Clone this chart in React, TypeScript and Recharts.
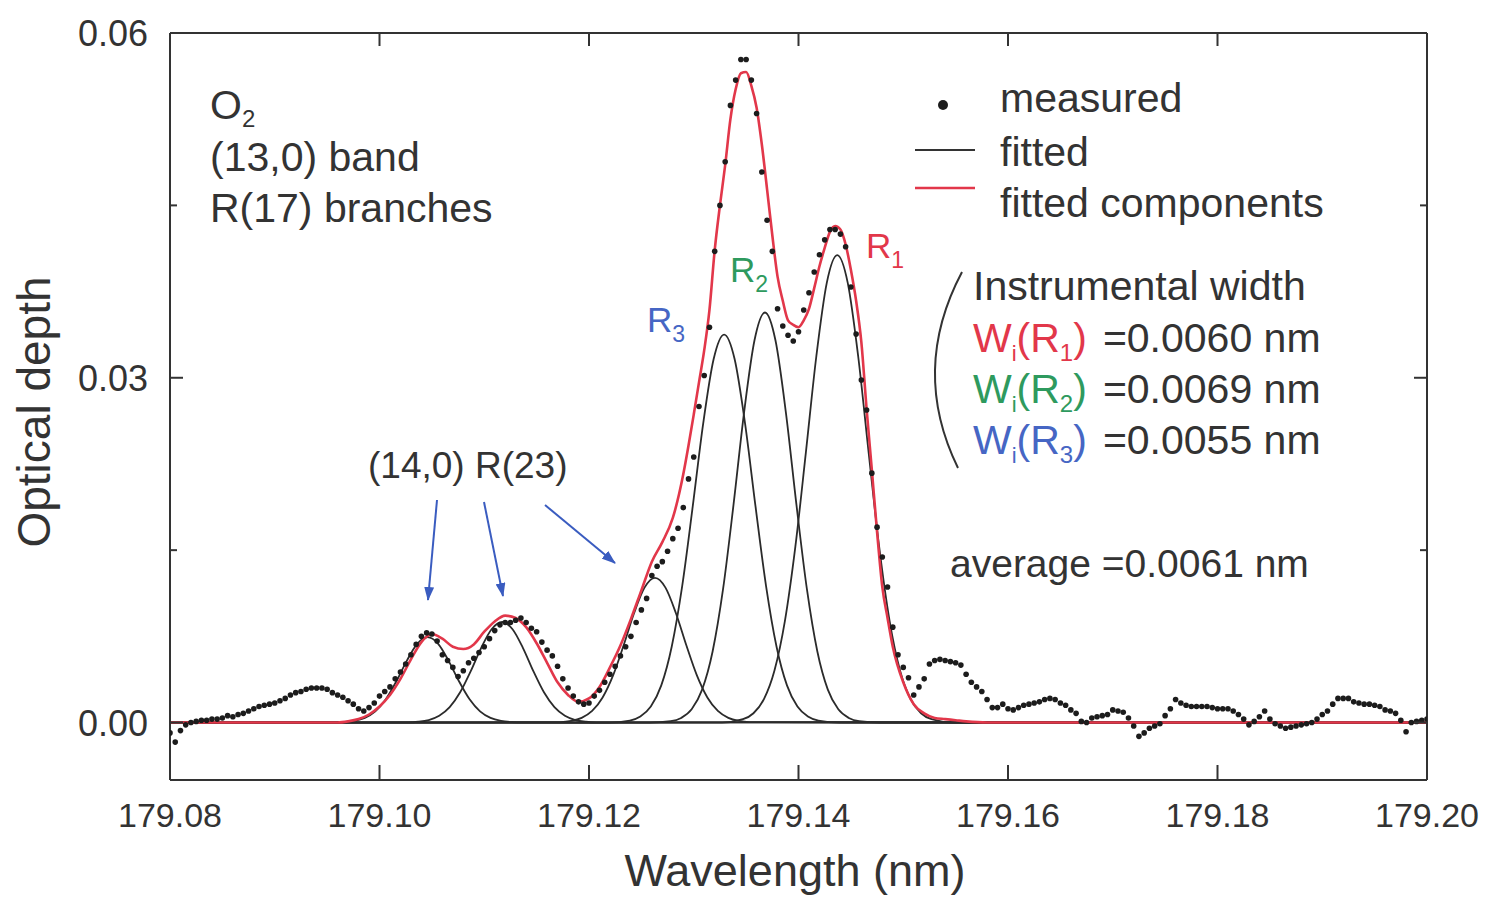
import React from "react";
import { ComposedChart, Line, Scatter, XAxis, YAxis } from "recharts";

// measured optical depth, one point every 0.0005 nm
const MEASURED_WL = [
  179.08, 179.0805, 179.081, 179.0815, 179.082, 179.0825, 179.083, 179.0835, 179.084, 179.0845,
  179.085, 179.0855, 179.086, 179.0865, 179.087, 179.0875, 179.088, 179.0885, 179.089, 179.0895,
  179.09, 179.0905, 179.091, 179.0915, 179.092, 179.0925, 179.093, 179.0935, 179.094, 179.0945,
  179.095, 179.0955, 179.096, 179.0965, 179.097, 179.0975, 179.098, 179.0985, 179.099, 179.0995,
  179.1, 179.1005, 179.101, 179.1015, 179.102, 179.1025, 179.103, 179.1035, 179.104, 179.1045,
  179.105, 179.1055, 179.106, 179.1065, 179.107, 179.1075, 179.108, 179.1085, 179.109, 179.1095,
  179.11, 179.1105, 179.111, 179.1115, 179.112, 179.1125, 179.113, 179.1135, 179.114, 179.1145,
  179.115, 179.1155, 179.116, 179.1165, 179.117, 179.1175, 179.118, 179.1185, 179.119, 179.1195,
  179.12, 179.1205, 179.121, 179.1215, 179.122, 179.1225, 179.123, 179.1235, 179.124, 179.1245,
  179.125, 179.1255, 179.126, 179.1265, 179.127, 179.1275, 179.128, 179.1285, 179.129, 179.1295,
  179.13, 179.1305, 179.131, 179.1315, 179.132, 179.1325, 179.133, 179.1335, 179.134, 179.1345,
  179.135, 179.1355, 179.136, 179.1365, 179.137, 179.1375, 179.138, 179.1385, 179.139, 179.1395,
  179.14, 179.1405, 179.141, 179.1415, 179.142, 179.1425, 179.143, 179.1435, 179.144, 179.1445,
  179.145, 179.1455, 179.146, 179.1465, 179.147, 179.1475, 179.148, 179.1485, 179.149, 179.1495,
  179.15, 179.1505, 179.151, 179.1515, 179.152, 179.1525, 179.153, 179.1535, 179.154, 179.1545,
  179.155, 179.1555, 179.156, 179.1565, 179.157, 179.1575, 179.158, 179.1585, 179.159, 179.1595,
  179.16, 179.1605, 179.161, 179.1615, 179.162, 179.1625, 179.163, 179.1635, 179.164, 179.1645,
  179.165, 179.1655, 179.166, 179.1665, 179.167, 179.1675, 179.168, 179.1685, 179.169, 179.1695,
  179.17, 179.1705, 179.171, 179.1715, 179.172, 179.1725, 179.173, 179.1735, 179.174, 179.1745,
  179.175, 179.1755, 179.176, 179.1765, 179.177, 179.1775, 179.178, 179.1785, 179.179, 179.1795,
  179.18, 179.1805, 179.181, 179.1815, 179.182, 179.1825, 179.183, 179.1835, 179.184, 179.1845,
  179.185, 179.1855, 179.186, 179.1865, 179.187, 179.1875, 179.188, 179.1885, 179.189, 179.1895,
  179.19, 179.1905, 179.191, 179.1915, 179.192, 179.1925, 179.193, 179.1935, 179.194, 179.1945,
  179.195, 179.1955, 179.196, 179.1965, 179.197, 179.1975, 179.198, 179.1985, 179.199, 179.1995,
  179.2,
];

const MEASURED_OD = [
  -0.0009, -0.0017, -0.0007, -0.0002, 0.0, 0.0001, 0.0002, 0.0002, 0.0003, 0.0003,
  0.0004, 0.0006, 0.0005, 0.0007, 0.0008, 0.001, 0.0012, 0.0014, 0.0015, 0.0016,
  0.0017, 0.0019, 0.0021, 0.0024, 0.0026, 0.0027, 0.0029, 0.003, 0.003, 0.003,
  0.0029, 0.0026, 0.0024, 0.0022, 0.0019, 0.0016, 0.0012, 0.001, 0.0013, 0.0017,
  0.0023, 0.0027, 0.0031, 0.0038, 0.0044, 0.0051, 0.0059, 0.0068, 0.0075, 0.0078,
  0.0077, 0.0071, 0.0059, 0.0054, 0.0048, 0.004, 0.0045, 0.0052, 0.0056, 0.0061,
  0.0066, 0.0073, 0.008, 0.0085, 0.0087, 0.0087, 0.0089, 0.0091, 0.0087, 0.0082,
  0.0079, 0.007, 0.0063, 0.0058, 0.0049, 0.0038, 0.003, 0.0023, 0.0018, 0.0016,
  0.0017, 0.0023, 0.0028, 0.0035, 0.0042, 0.0049, 0.0058, 0.0066, 0.0075, 0.0087,
  0.0098, 0.0108, 0.0128, 0.0136, 0.014, 0.0149, 0.016, 0.0169, 0.0187, 0.0212,
  0.0231, 0.0275, 0.0302, 0.0344, 0.041, 0.045, 0.0488, 0.0537, 0.0559, 0.0577,
  0.0577, 0.0559, 0.053, 0.0479, 0.0437, 0.041, 0.036, 0.0345, 0.0337, 0.0332,
  0.034, 0.0359, 0.0374, 0.0392, 0.0407, 0.042, 0.0429, 0.0429, 0.0425, 0.0414,
  0.0379, 0.0338, 0.0298, 0.0272, 0.0217, 0.017, 0.0144, 0.0118, 0.0083, 0.0059,
  0.0048, 0.0039, 0.0024, 0.0031, 0.0038, 0.0051, 0.0054, 0.0055, 0.0054, 0.0053,
  0.0052, 0.005, 0.0042, 0.0035, 0.0031, 0.0027, 0.002, 0.0013, 0.0013, 0.0016,
  0.0012, 0.0011, 0.0013, 0.0015, 0.0016, 0.0017, 0.0018, 0.002, 0.0021, 0.002,
  0.0017, 0.0015, 0.0011, 0.0008, 0.0001, 0.0, 0.0004, 0.0005, 0.0006, 0.0007,
  0.0011, 0.001, 0.0009, 0.0004, -0.0003, -0.0012, -0.0009, -0.0005, -0.0003, -0.0001,
  0.0006, 0.0012, 0.002, 0.0017, 0.0015, 0.0014, 0.0014, 0.0014, 0.0014, 0.0013,
  0.0012, 0.0012, 0.0012, 0.001, 0.0007, 0.0003, -0.0002, 0.0001, 0.0005, 0.001,
  0.0003, -0.0001, -0.0003, -0.0005, -0.0004, -0.0003, -0.0002, -0.0001, 0.0, 0.0003,
  0.0007, 0.001, 0.0016, 0.0021, 0.0021, 0.0021, 0.0018, 0.0017, 0.0016, 0.0016,
  0.0015, 0.0014, 0.0011, 0.001, 0.0008, 0.0002, -0.0008, 0.0, 0.0001, 0.0002,
  0.0003,
];

// red curve: total of the fit
const FITTED_SUM: [number, number][] = [
  [179.08, 0], [179.09, 0], [179.096, 0], [179.097, 0.0001], [179.098, 0.0003],
  [179.099, 0.0007], [179.1, 0.0014], [179.101, 0.0024], [179.102, 0.0038], [179.103, 0.0055],
  [179.104, 0.007], [179.105, 0.0077], [179.106, 0.0073], [179.107, 0.0066], [179.108, 0.0064],
  [179.109, 0.0068], [179.11, 0.0079], [179.111, 0.0088], [179.112, 0.0093], [179.113, 0.0091],
  [179.114, 0.0083], [179.115, 0.0069], [179.116, 0.0052], [179.117, 0.0035], [179.118, 0.0024],
  [179.119, 0.0018], [179.12, 0.0021], [179.121, 0.0031], [179.122, 0.0048], [179.123, 0.0067],
  [179.124, 0.009], [179.125, 0.0115], [179.126, 0.014], [179.127, 0.0157], [179.128, 0.0178],
  [179.129, 0.0216], [179.1295, 0.0241], [179.13, 0.0268], [179.1305, 0.0296], [179.131, 0.0324],
  [179.1315, 0.0359], [179.132, 0.0411], [179.1325, 0.045], [179.133, 0.0485], [179.1335, 0.0525],
  [179.134, 0.0551], [179.1345, 0.0565], [179.135, 0.0566], [179.1355, 0.0554], [179.136, 0.0535],
  [179.1365, 0.0503], [179.137, 0.0464], [179.1375, 0.0424], [179.138, 0.0388], [179.1385, 0.0367],
  [179.139, 0.035], [179.1395, 0.0346], [179.14, 0.0344], [179.1405, 0.035], [179.141, 0.036],
  [179.1415, 0.0378], [179.142, 0.0397], [179.1425, 0.0413], [179.143, 0.0427], [179.1435, 0.0432],
  [179.144, 0.0429], [179.1445, 0.0416], [179.145, 0.0394], [179.1455, 0.0367], [179.146, 0.0331],
  [179.1465, 0.0273], [179.147, 0.022], [179.1475, 0.0166], [179.148, 0.0118], [179.1485, 0.0091],
  [179.149, 0.0066], [179.15, 0.0035], [179.151, 0.0016], [179.152, 0.0008], [179.153, 0.0004],
  [179.154, 0.0003], [179.155, 0.0002], [179.156, 0.0001], [179.158, 0], [179.2, 0],
];

// black curves: single fitted lines
const COMP_14_0_A: [number, number][] = [
  [179.08, 0], [179.0956, 0.00001], [179.0966, 0.00004], [179.0976, 0.00014], [179.0986, 0.0004],
  [179.0996, 0.00097], [179.1006, 0.00202], [179.1016, 0.00357], [179.1026, 0.00537], [179.1036, 0.00685],
  [179.1046, 0.00743], [179.1056, 0.00685], [179.1066, 0.00537], [179.1076, 0.00357], [179.1086, 0.00202],
  [179.1096, 0.00097], [179.1106, 0.0004], [179.1116, 0.00014], [179.1126, 0.00004], [179.1136, 0.00001],
  [179.2, 0],
];

const COMP_14_0_B: [number, number][] = [
  [179.08, 0], [179.1027, 0.00002], [179.1037, 0.00007], [179.1047, 0.00022], [179.1057, 0.00059],
  [179.1067, 0.00134], [179.1077, 0.00263], [179.1087, 0.00445], [179.1097, 0.00648], [179.1107, 0.00812],
  [179.1117, 0.00875], [179.1127, 0.00812], [179.1137, 0.00648], [179.1147, 0.00445], [179.1157, 0.00263],
  [179.1167, 0.00134], [179.1177, 0.00059], [179.1187, 0.00022], [179.1197, 0.00007], [179.1207, 0.00002],
  [179.2, 0],
];

const COMP_14_0_C: [number, number][] = [
  [179.08, 0], [179.1173, 0.00004], [179.1183, 0.00014], [179.1193, 0.00041], [179.1203, 0.00101],
  [179.1213, 0.00218], [179.1223, 0.0041], [179.1233, 0.0067], [179.1243, 0.00951], [179.1253, 0.01174],
  [179.1263, 0.01259], [179.1273, 0.01174], [179.1283, 0.00951], [179.1293, 0.0067], [179.1303, 0.0041],
  [179.1313, 0.00218], [179.1323, 0.00101], [179.1333, 0.00041], [179.1343, 0.00014], [179.1353, 0.00004],
  [179.2, 0],
];

const COMP_R3: [number, number][] = [
  [179.08, 0], [179.1219, 0], [179.1239, 0.00017], [179.1249, 0.00052], [179.1259, 0.00139],
  [179.1269, 0.00323], [179.1279, 0.00662], [179.1289, 0.0119], [179.1299, 0.01878], [179.1309, 0.02601],
  [179.1319, 0.03163], [179.1329, 0.03376], [179.1339, 0.03163], [179.1349, 0.02601], [179.1359, 0.01878],
  [179.1369, 0.0119], [179.1379, 0.00662], [179.1389, 0.00323], [179.1399, 0.00139], [179.1409, 0.00052],
  [179.1419, 0.00017], [179.1439, 0], [179.2, 0],
];

const COMP_R2: [number, number][] = [
  [179.08, 0], [179.1258, 0], [179.1278, 0.00012], [179.1288, 0.0004], [179.1298, 0.00115],
  [179.1308, 0.00286], [179.1318, 0.00618], [179.1328, 0.01162], [179.1338, 0.01898], [179.1348, 0.02695],
  [179.1358, 0.03326], [179.1368, 0.03568], [179.1378, 0.03326], [179.1388, 0.02695], [179.1398, 0.01898],
  [179.1408, 0.01162], [179.1418, 0.00618], [179.1428, 0.00286], [179.1438, 0.00115], [179.1448, 0.0004],
  [179.1458, 0.00012], [179.1478, 0], [179.2, 0],
];

const COMP_R1: [number, number][] = [
  [179.08, 0], [179.1327, 0], [179.1347, 0.00029], [179.1357, 0.00081], [179.1367, 0.00203],
  [179.1377, 0.0045], [179.1387, 0.00882], [179.1397, 0.0153], [179.1407, 0.02346], [179.1417, 0.03185],
  [179.1427, 0.03826], [179.1437, 0.04067], [179.1447, 0.03826], [179.1457, 0.03185], [179.1467, 0.02346],
  [179.1477, 0.0153], [179.1487, 0.00882], [179.1497, 0.0045], [179.1507, 0.00203], [179.1517, 0.00081],
  [179.1527, 0.00029], [179.1547, 0], [179.2, 0],
];

const X_TICKS = [179.08, 179.1, 179.12, 179.14, 179.16, 179.18, 179.2];
const Y_TICKS = [0, 0.015, 0.03, 0.045, 0.06];
const Y_LABELED = [0, 0.03, 0.06];

const FONT = '"Liberation Sans", Arial, Helvetica, sans-serif';
const INK = "#333333";
const RED = "#e2374a";
const GREEN = "#2e9a5e";
const BLUE = "#4666c4";
const ARROW = "#3a5cc0";

const toPoints = (pairs: [number, number][]) => pairs.map(([x, y]) => ({ x, y }));

const isLabeled = (v: number) => Y_LABELED.some((t) => Math.abs(t - v) < 1e-9);

function BottomTick({ x, y, payload }: any) {
  return (
    <g>
      <line x1={x} y1={y} x2={x} y2={y - 15} stroke={INK} strokeWidth={2} />
      <text x={x} y={y + 47} textAnchor="middle" fontSize={34} fill={INK} fontFamily={FONT}>
        {Number(payload.value).toFixed(2)}
      </text>
    </g>
  );
}

function TopTick({ x, y }: any) {
  return <line x1={x} y1={y} x2={x} y2={y + 13} stroke={INK} strokeWidth={2} />;
}

function LeftTick({ x, y, payload }: any) {
  const major = isLabeled(payload.value);
  return (
    <g>
      <line x1={x} y1={y} x2={x + (major ? 13 : 7)} y2={y} stroke={INK} strokeWidth={2} />
      {major ? (
        <text x={x - 22} y={y + 13} textAnchor="end" fontSize={36} fill={INK} fontFamily={FONT}>
          {Number(payload.value).toFixed(2)}
        </text>
      ) : null}
    </g>
  );
}

function RightTick({ x, y, payload }: any) {
  const major = isLabeled(payload.value);
  return <line x1={x} y1={y} x2={x - (major ? 13 : 7)} y2={y} stroke={INK} strokeWidth={2} />;
}

const dotShape = (p: any) => <circle cx={p.cx} cy={p.cy} r={2.8} fill="#1c1c1c" />;

export default function App() {
  const measured = MEASURED_WL.map((x, i) => ({ x, y: MEASURED_OD[i] }));
  const components = [COMP_14_0_A, COMP_14_0_B, COMP_14_0_C, COMP_R3, COMP_R2, COMP_R1].map(toPoints);
  const axisLine = { stroke: INK, strokeWidth: 2 };

  return (
    <div style={{ position: "absolute", left: 0, top: 0, width: 1485, height: 899, background: "#fff" }}>
      <ComposedChart width={1485} height={899} margin={{ top: 23, right: 48, bottom: 59, left: 70 }}>
        <XAxis
          dataKey="x"
          type="number"
          domain={[179.08, 179.2]}
          allowDataOverflow
          ticks={X_TICKS}
          interval={0}
          height={60}
          tickLine={false}
          tickSize={0}
          tickMargin={0}
          tick={BottomTick}
          axisLine={axisLine}
        />
        <XAxis
          xAxisId="top"
          orientation="top"
          dataKey="x"
          type="number"
          domain={[179.08, 179.2]}
          allowDataOverflow
          ticks={X_TICKS}
          interval={0}
          height={10}
          tickLine={false}
          tickSize={0}
          tickMargin={0}
          tick={TopTick}
          axisLine={axisLine}
        />
        <YAxis
          dataKey="y"
          type="number"
          domain={[-0.005, 0.06]}
          allowDataOverflow
          ticks={Y_TICKS}
          interval={0}
          width={100}
          tickLine={false}
          tickSize={0}
          tickMargin={0}
          tick={LeftTick}
          axisLine={axisLine}
        />
        <YAxis
          yAxisId="right"
          orientation="right"
          dataKey="y"
          type="number"
          domain={[-0.005, 0.06]}
          allowDataOverflow
          ticks={Y_TICKS}
          interval={0}
          width={10}
          tickLine={false}
          tickSize={0}
          tickMargin={0}
          tick={RightTick}
          axisLine={axisLine}
        />
        {components.map((c, i) => (
          <Line
            key={i}
            data={c}
            dataKey="y"
            type="monotone"
            stroke="#2b2b2b"
            strokeWidth={1.8}
            dot={false}
            activeDot={false}
            isAnimationActive={false}
          />
        ))}
        <Line
          data={toPoints(FITTED_SUM)}
          dataKey="y"
          type="monotone"
          stroke={RED}
          strokeWidth={2.6}
          dot={false}
          activeDot={false}
          isAnimationActive={false}
        />
        <Scatter data={measured} dataKey="y" shape={dotShape} isAnimationActive={false} />
      </ComposedChart>

      <svg
        width={1485}
        height={899}
        style={{ position: "absolute", left: 0, top: 0, pointerEvents: "none" }}
        fontFamily={FONT}
      >
        <defs>
          <marker id="head" markerWidth={14} markerHeight={10} refX={13} refY={5} orient="auto" markerUnits="userSpaceOnUse">
            <path d="M0,0 L14,5 L0,10 z" fill={ARROW} />
          </marker>
        </defs>

        {/* axis titles */}
        <text x={795} y={886} textAnchor="middle" fontSize={45} fill={INK}>
          Wavelength (nm)
        </text>
        <text transform="translate(50,412) rotate(-90)" textAnchor="middle" fontSize={46} fill={INK}>
          Optical depth
        </text>

        {/* band description */}
        <text x={210} y={119} fontSize={41} fill={INK}>
          O<tspan fontSize={24} dy={8}>2</tspan>
        </text>
        <text x={210} y={171} fontSize={41} fill={INK}>(13,0) band</text>
        <text x={210} y={222} fontSize={41} fill={INK}>R(17) branches</text>

        {/* legend */}
        <circle cx={943} cy={105} r={5} fill="#1c1c1c" />
        <text x={1000} y={112} fontSize={41} fill={INK}>measured</text>
        <line x1={915} y1={150} x2={975} y2={150} stroke={INK} strokeWidth={2} />
        <text x={1000} y={166} fontSize={41} fill={INK}>fitted</text>
        <line x1={915} y1={188} x2={975} y2={188} stroke={RED} strokeWidth={2.5} />
        <text x={1000} y={217} fontSize={41} fill={INK}>fitted components</text>

        {/* instrumental width block */}
        <path d="M 962 272 Q 910 370 958 468" fill="none" stroke={INK} strokeWidth={2} />
        <text x={973} y={300} fontSize={41} fill={INK}>Instrumental width</text>
        {[
          { c: RED, s: "1", v: "=0.0060 nm", y: 352 },
          { c: GREEN, s: "2", v: "=0.0069 nm", y: 403 },
          { c: BLUE, s: "3", v: "=0.0055 nm", y: 454 },
        ].map((r) => (
          <text key={r.s} x={973} y={r.y} fontSize={41}>
            <tspan fill={r.c}>W</tspan>
            <tspan fill={r.c} fontSize={22} dy={9}>i</tspan>
            <tspan fill={r.c} dy={-9}>(R</tspan>
            <tspan fill={r.c} fontSize={24} dy={9}>{r.s}</tspan>
            <tspan fill={r.c} dy={-9}>)</tspan>
            <tspan fill={INK} dx={16}>{r.v}</tspan>
          </text>
        ))}
        <text x={950} y={577} fontSize={39} fill={INK}>average =0.0061 nm</text>

        {/* peak labels */}
        <text x={647} y={332} fontSize={35} fill={BLUE}>
          R<tspan fontSize={23} dy={10}>3</tspan>
        </text>
        <text x={730} y={282} fontSize={35} fill={GREEN}>
          R<tspan fontSize={23} dy={10}>2</tspan>
        </text>
        <text x={866} y={258} fontSize={35} fill={RED}>
          R<tspan fontSize={23} dy={10}>1</tspan>
        </text>

        {/* (14,0) R(23) arrows */}
        <text x={368} y={478} fontSize={37} fill={INK}>(14,0) R(23)</text>
        <line x1={437} y1={500} x2={428} y2={600} stroke={ARROW} strokeWidth={2} markerEnd="url(#head)" />
        <line x1={484} y1={502} x2={503} y2={596} stroke={ARROW} strokeWidth={2} markerEnd="url(#head)" />
        <line x1={545} y1={505} x2={615} y2={563} stroke={ARROW} strokeWidth={2} markerEnd="url(#head)" />
      </svg>
    </div>
  );
}
